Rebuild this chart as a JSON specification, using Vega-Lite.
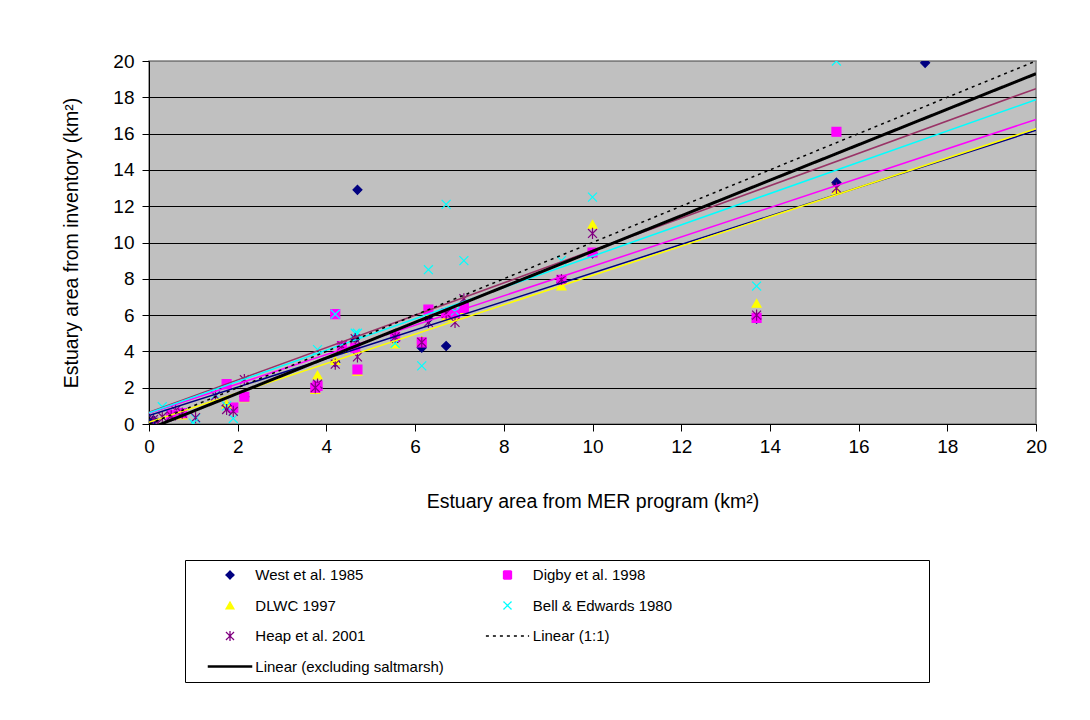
{
  "$schema": "https://vega.github.io/schema/vega-lite/v6.json",
  "width": 887,
  "height": 363,
  "autosize": {"type": "none"},
  "padding": {"left": 149, "top": 61, "right": 54, "bottom": 296},
  "background": "white",
  "config": {
    "font": "Liberation Sans",
    "view": {"fill": "#C0C0C0", "stroke": "#808080", "strokeWidth": 1.5},
    "axis": {
      "domainColor": "black",
      "tickColor": "black",
      "labelColor": "black",
      "titleColor": "black",
      "labelFont": "Liberation Sans",
      "titleFont": "Liberation Sans",
      "labelFontSize": 19,
      "titleFontSize": 19.5,
      "titleFontWeight": "normal",
      "tickSize": 7,
      "labelFlush": false,
      "labelOverlap": false
    },
    "legend": {
      "orient": "none",
      "legendX": 36,
      "legendY": 499,
      "direction": "horizontal",
      "columns": 2,
      "columnPadding": 23.5,
      "rowPadding": 10.5,
      "clipHeight": 20,
      "padding": 5,
      "symbolSize": 64,
      "symbolStrokeWidth": 1.3,
      "symbolOffset": 32.5,
      "labelOffset": 17.8,
      "strokeColor": "black",
      "fillColor": "white",
      "labelFont": "Liberation Sans",
      "labelFontSize": 15,
      "labelColor": "black",
      "labelLimit": 400,
      "titleOrient": "right",
      "titlePadding": 252,
      "titleFontSize": 15
    }
  },
  "datasets": {
    "estuaries": [
      {"mer": 17.5, "source": "West et al. 1985", "inv": 19.9},
      {"mer": 15.5, "source": "West et al. 1985", "inv": 13.3},
      {"mer": 15.5, "source": "DLWC 1997", "inv": 12.9},
      {"mer": 15.5, "source": "Digby et al. 1998", "inv": 16.1},
      {"mer": 15.5, "source": "Bell & Edwards 1980", "inv": 20.0},
      {"mer": 15.5, "source": "Heap et al. 2001", "inv": 13.0},
      {"mer": 13.7, "source": "West et al. 1985", "inv": 5.8},
      {"mer": 13.7, "source": "DLWC 1997", "inv": 6.65},
      {"mer": 13.7, "source": "Digby et al. 1998", "inv": 5.85},
      {"mer": 13.7, "source": "Bell & Edwards 1980", "inv": 7.6},
      {"mer": 13.7, "source": "Heap et al. 2001", "inv": 6.0},
      {"mer": 10.0, "source": "West et al. 1985", "inv": 9.4},
      {"mer": 10.0, "source": "DLWC 1997", "inv": 11.0},
      {"mer": 10.0, "source": "Digby et al. 1998", "inv": 9.45},
      {"mer": 10.0, "source": "Bell & Edwards 1980", "inv": 12.5},
      {"mer": 10.0, "source": "Heap et al. 2001", "inv": 10.5},
      {"mer": 9.3, "source": "West et al. 1985", "inv": 7.8},
      {"mer": 9.3, "source": "DLWC 1997", "inv": 7.6},
      {"mer": 9.3, "source": "Digby et al. 1998", "inv": 7.95},
      {"mer": 9.3, "source": "Bell & Edwards 1980", "inv": 9.0},
      {"mer": 9.3, "source": "Heap et al. 2001", "inv": 7.95},
      {"mer": 7.1, "source": "West et al. 1985", "inv": 6.4},
      {"mer": 7.1, "source": "DLWC 1997", "inv": 6.3},
      {"mer": 7.1, "source": "Digby et al. 1998", "inv": 6.4},
      {"mer": 7.1, "source": "Bell & Edwards 1980", "inv": 9.0},
      {"mer": 7.1, "source": "Heap et al. 2001", "inv": 6.9},
      {"mer": 6.9, "source": "DLWC 1997", "inv": 6.0},
      {"mer": 6.9, "source": "Digby et al. 1998", "inv": 6.1},
      {"mer": 6.9, "source": "Bell & Edwards 1980", "inv": 6.2},
      {"mer": 6.9, "source": "Heap et al. 2001", "inv": 5.6},
      {"mer": 6.7, "source": "West et al. 1985", "inv": 4.3},
      {"mer": 6.7, "source": "DLWC 1997", "inv": 5.9},
      {"mer": 6.7, "source": "Digby et al. 1998", "inv": 6.1},
      {"mer": 6.7, "source": "Bell & Edwards 1980", "inv": 12.1},
      {"mer": 6.7, "source": "Heap et al. 2001", "inv": 6.1},
      {"mer": 6.3, "source": "West et al. 1985", "inv": 5.8},
      {"mer": 6.3, "source": "DLWC 1997", "inv": 6.2},
      {"mer": 6.3, "source": "Digby et al. 1998", "inv": 6.3},
      {"mer": 6.3, "source": "Bell & Edwards 1980", "inv": 8.5},
      {"mer": 6.3, "source": "Heap et al. 2001", "inv": 5.6},
      {"mer": 6.15, "source": "West et al. 1985", "inv": 4.2},
      {"mer": 6.15, "source": "DLWC 1997", "inv": 4.6},
      {"mer": 6.15, "source": "Digby et al. 1998", "inv": 4.5},
      {"mer": 6.15, "source": "Bell & Edwards 1980", "inv": 3.2},
      {"mer": 6.15, "source": "Heap et al. 2001", "inv": 4.5},
      {"mer": 5.55, "source": "West et al. 1985", "inv": 4.6},
      {"mer": 5.55, "source": "DLWC 1997", "inv": 4.4},
      {"mer": 5.55, "source": "Digby et al. 1998", "inv": 4.8},
      {"mer": 5.55, "source": "Bell & Edwards 1980", "inv": 4.45},
      {"mer": 5.55, "source": "Heap et al. 2001", "inv": 4.8},
      {"mer": 4.7, "source": "West et al. 1985", "inv": 12.9},
      {"mer": 4.7, "source": "DLWC 1997", "inv": 2.9},
      {"mer": 4.7, "source": "Digby et al. 1998", "inv": 3.0},
      {"mer": 4.7, "source": "Bell & Edwards 1980", "inv": 5.0},
      {"mer": 4.7, "source": "Heap et al. 2001", "inv": 3.7},
      {"mer": 4.65, "source": "West et al. 1985", "inv": 4.7},
      {"mer": 4.65, "source": "DLWC 1997", "inv": 4.3},
      {"mer": 4.65, "source": "Digby et al. 1998", "inv": 4.2},
      {"mer": 4.65, "source": "Bell & Edwards 1980", "inv": 5.0},
      {"mer": 4.65, "source": "Heap et al. 2001", "inv": 4.7},
      {"mer": 4.35, "source": "DLWC 1997", "inv": 4.1},
      {"mer": 4.35, "source": "Digby et al. 1998", "inv": 4.3},
      {"mer": 4.35, "source": "Heap et al. 2001", "inv": 4.3},
      {"mer": 4.2, "source": "West et al. 1985", "inv": 3.4},
      {"mer": 4.2, "source": "DLWC 1997", "inv": 3.5},
      {"mer": 4.2, "source": "Digby et al. 1998", "inv": 6.05},
      {"mer": 4.2, "source": "Bell & Edwards 1980", "inv": 6.05},
      {"mer": 4.2, "source": "Heap et al. 2001", "inv": 3.3},
      {"mer": 3.8, "source": "West et al. 1985", "inv": 2.0},
      {"mer": 3.8, "source": "DLWC 1997", "inv": 2.7},
      {"mer": 3.8, "source": "Digby et al. 1998", "inv": 2.1},
      {"mer": 3.8, "source": "Bell & Edwards 1980", "inv": 4.1},
      {"mer": 3.8, "source": "Heap et al. 2001", "inv": 2.2},
      {"mer": 3.75, "source": "DLWC 1997", "inv": 1.9},
      {"mer": 3.75, "source": "Digby et al. 1998", "inv": 2.0},
      {"mer": 3.75, "source": "Heap et al. 2001", "inv": 2.0},
      {"mer": 2.15, "source": "West et al. 1985", "inv": 1.5},
      {"mer": 2.15, "source": "DLWC 1997", "inv": 1.45},
      {"mer": 2.15, "source": "Digby et al. 1998", "inv": 1.5},
      {"mer": 2.15, "source": "Heap et al. 2001", "inv": 2.45},
      {"mer": 1.9, "source": "Digby et al. 1998", "inv": 0.9},
      {"mer": 1.9, "source": "Bell & Edwards 1980", "inv": 0.3},
      {"mer": 1.9, "source": "Heap et al. 2001", "inv": 0.7},
      {"mer": 1.75, "source": "West et al. 1985", "inv": 1.0},
      {"mer": 1.75, "source": "DLWC 1997", "inv": 1.1},
      {"mer": 1.75, "source": "Digby et al. 1998", "inv": 2.2},
      {"mer": 1.75, "source": "Bell & Edwards 1980", "inv": 1.0},
      {"mer": 1.75, "source": "Heap et al. 2001", "inv": 0.8},
      {"mer": 1.5, "source": "Bell & Edwards 1980", "inv": 1.6},
      {"mer": 1.5, "source": "Heap et al. 2001", "inv": 1.55},
      {"mer": 1.05, "source": "Bell & Edwards 1980", "inv": 0.3},
      {"mer": 1.05, "source": "Heap et al. 2001", "inv": 0.35},
      {"mer": 1.0, "source": "Bell & Edwards 1980", "inv": 0.05},
      {"mer": 0.75, "source": "DLWC 1997", "inv": 0.5},
      {"mer": 0.75, "source": "Digby et al. 1998", "inv": 0.6},
      {"mer": 0.75, "source": "Heap et al. 2001", "inv": 0.6},
      {"mer": 0.6, "source": "Heap et al. 2001", "inv": 0.75},
      {"mer": 0.5, "source": "West et al. 1985", "inv": 0.5},
      {"mer": 0.5, "source": "Digby et al. 1998", "inv": 0.5},
      {"mer": 0.5, "source": "Heap et al. 2001", "inv": 0.45},
      {"mer": 0.3, "source": "Bell & Edwards 1980", "inv": 0.95},
      {"mer": 0.3, "source": "Heap et al. 2001", "inv": 0.4},
      {"mer": 0.2, "source": "Heap et al. 2001", "inv": 0.05},
      {"mer": 0.1, "source": "West et al. 1985", "inv": 0.2},
      {"mer": 0.1, "source": "Heap et al. 2001", "inv": 0.25}
    ],
    "seriesFits": [
      {"fit": "West et al. 1985", "mer": 0, "inv": 0.46},
      {"fit": "West et al. 1985", "mer": 20, "inv": 16.18},
      {"fit": "DLWC 1997", "mer": 0, "inv": 0.1},
      {"fit": "DLWC 1997", "mer": 20, "inv": 16.27},
      {"fit": "Heap et al. 2001", "mer": 0, "inv": 0.64},
      {"fit": "Heap et al. 2001", "mer": 20, "inv": 18.48},
      {"fit": "Digby et al. 1998", "mer": 0, "inv": 0.59},
      {"fit": "Digby et al. 1998", "mer": 20, "inv": 16.78},
      {"fit": "Bell & Edwards 1980", "mer": 0, "inv": 0.62},
      {"fit": "Bell & Edwards 1980", "mer": 20, "inv": 17.87}
    ],
    "keyFits": [
      {"source": "Linear (1:1)", "mer": 0, "inv": 0},
      {"source": "Linear (1:1)", "mer": 20, "inv": 20},
      {"source": "Linear (excluding saltmarsh)", "mer": 0, "inv": -0.27},
      {"source": "Linear (excluding saltmarsh)", "mer": 20, "inv": 19.3}
    ]
  },
  "encoding": {
    "x": {
      "field": "mer", "type": "quantitative",
      "scale": {"domain": [0, 20], "nice": false, "zero": false},
      "axis": {
        "values": [0, 2, 4, 6, 8, 10, 12, 14, 16, 18, 20],
        "title": "Estuary area from MER program (km²)",
        "grid": false,
        "labelPadding": 6,
        "titlePadding": 36
      }
    },
    "y": {
      "field": "inv", "type": "quantitative",
      "scale": {"domain": [0, 20], "nice": false, "zero": false},
      "axis": {
        "values": [0, 2, 4, 6, 8, 10, 12, 14, 16, 18, 20],
        "title": "Estuary area from inventory (km²)",
        "grid": true,
        "gridColor": {"condition": {"test": "datum.value >= 20", "value": "#808080"}, "value": "black"},
        "gridWidth": 1,
        "gridOpacity": 1,
        "labelPadding": 8,
        "titlePadding": 31
      }
    }
  },
  "layer": [
    {
      "data": {"name": "estuaries"},
      "mark": {"type": "point", "filled": true, "opacity": 1, "size": 80, "strokeWidth": 1.2, "clip": true},
      "encoding": {
        "fill": {
          "field": "source", "type": "nominal", "title": " ",
          "scale": {
            "domain": ["West et al. 1985", "Digby et al. 1998", "DLWC 1997", "Bell & Edwards 1980", "Heap et al. 2001", "Linear (1:1)", "Linear (excluding saltmarsh)"],
            "range": ["#000080", "#FF00FF", "#FFFF00", "transparent", "transparent", "transparent", "black"]
          }
        },
        "stroke": {
          "field": "source", "type": "nominal", "title": " ",
          "scale": {
            "domain": ["West et al. 1985", "Digby et al. 1998", "DLWC 1997", "Bell & Edwards 1980", "Heap et al. 2001", "Linear (1:1)", "Linear (excluding saltmarsh)"],
            "range": ["#000080", "#FF00FF", "#FFFF00", "#00FFFF", "#800080", "black", "black"]
          }
        },
        "shape": {
          "field": "source", "type": "nominal", "title": " ",
          "scale": {
            "domain": ["West et al. 1985", "Digby et al. 1998", "DLWC 1997", "Bell & Edwards 1980", "Heap et al. 2001", "Linear (1:1)", "Linear (excluding saltmarsh)"],
            "range": [
              "diamond",
              "square",
              "triangle-up",
              "M-1,-1L1,1M1,-1L-1,1",
              "M-1,-1L1,1M1,-1L-1,1M0,-1.25L0,1.25",
              "M-5.4,0L5.4,0",
              "M-5.4,-0.15L5.4,-0.15L5.4,0.15L-5.4,0.15Z"
            ]
          }
        }
      }
    },
    {
      "data": {"name": "seriesFits"},
      "mark": {"type": "line", "strokeWidth": 1.5, "clip": true},
      "encoding": {
        "color": {
          "field": "fit", "type": "nominal", "legend": null,
          "scale": {
            "domain": ["West et al. 1985", "DLWC 1997", "Heap et al. 2001", "Digby et al. 1998", "Bell & Edwards 1980"],
            "range": ["#000080", "#FFFF00", "#993366", "#FF00FF", "#00FFFF"]
          }
        }
      }
    },
    {
      "data": {"name": "keyFits"},
      "mark": {"type": "line", "clip": true},
      "encoding": {
        "stroke": {"field": "source", "type": "nominal", "title": " "},
        "strokeWidth": {
          "condition": {"test": "datum.source === 'Linear (excluding saltmarsh)'", "value": 3},
          "value": 1.5
        },
        "strokeDash": {
          "field": "source", "type": "nominal", "title": " ",
          "scale": {
            "domain": ["West et al. 1985", "Digby et al. 1998", "DLWC 1997", "Bell & Edwards 1980", "Heap et al. 2001", "Linear (1:1)", "Linear (excluding saltmarsh)"],
            "range": [[1, 0], [1, 0], [1, 0], [1, 0], [1, 0], [3, 4], [1, 0]]
          }
        }
      }
    }
  ]
}
